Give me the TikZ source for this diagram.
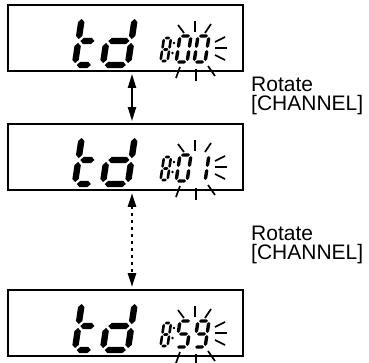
\documentclass[tikz,border=0pt]{standalone}
\usepackage{fontspec}
\setmainfont{Liberation Sans}
\usetikzlibrary{arrows.meta}

% horizontal LCD segment: x1, x2, y, thickness
\newcommand{\hsg}[4]{\fill ({#1},{#3}) -- ({#1+#4/2},{#3-#4/2}) -- ({#2-#4/2},{#3-#4/2}) -- ({#2},{#3}) -- ({#2-#4/2},{#3+#4/2}) -- ({#1+#4/2},{#3+#4/2}) -- cycle;}
% vertical LCD segment: x, y1, y2, thickness
\newcommand{\vsg}[4]{\fill ({#1},{#2}) -- ({#1+#4/2},{#2+#4/2}) -- ({#1+#4/2},{#3-#4/2}) -- ({#1},{#3}) -- ({#1-#4/2},{#3-#4/2}) -- ({#1-#4/2},{#2+#4/2}) -- cycle;}

\newcommand\lsega{\hsg{\dG}{\dW-\dG}{0}{\dT}}
\newcommand\lsegb{\vsg{\dW}{\dG}{\dH/2-\dG}{\dT}}
\newcommand\lsegc{\vsg{\dW}{\dH/2+\dG}{\dH-\dG}{\dT}}
\newcommand\lsegd{\hsg{\dG}{\dW-\dG}{\dH}{\dT}}
\newcommand\lsege{\vsg{0}{\dH/2+\dG}{\dH-\dG}{\dT}}
\newcommand\lsegf{\vsg{0}{\dG}{\dH/2-\dG}{\dT}}
\newcommand\lsegg{\hsg{\dG}{\dW-\dG}{\dH/2}{\dT}}

% LCD digit: x0, y0 (top-left), width, height, thickness, slant, segments
\newcommand{\lcd}[7]{%
  \begin{scope}[shift={(#1,#2)},xslant=#6]
    \pgfmathsetmacro\dW{#3}\pgfmathsetmacro\dH{#4}%
    \pgfmathsetmacro\dT{#5}\pgfmathsetmacro\dG{0.3*#5}%
    \foreach \s in {#7}{\csname lseg\s\endcsname}
  \end{scope}}

% one display content: vertical offset, segments of digit 2, segments of digit 3
\newcommand{\display}[3]{%
  \lcd{82}{17+#1}{18}{48}{6.4}{0.15}{f,g,e,d}
  \lcd{110}{17+#1}{25}{48}{6.4}{0.15}{b,c,d,e,g}
  \lcd{164}{38+#1}{7}{23}{2.6}{0.15}{a,b,c,d,e,f,g}
  \fill (174,{43+#1}) circle (1.3);
  \fill (172.5,{53+#1}) circle (1.3);
  \lcd{180}{36+#1}{11}{26}{3.4}{0.15}{#2}
  \lcd{198}{36+#1}{11}{26}{3.4}{0.15}{#3}
  \begin{scope}[ray]
    \draw (178,{25+#1}) -- (184,{33+#1});
    \draw (195,{21+#1}) -- (195,{32+#1});
    \draw (211,{24+#1}) -- (205,{33+#1});
    \draw (215,{42+#1}) -- (225,{37+#1});
    \draw (215,{48+#1}) -- (227,{48+#1});
    \draw (215,{55+#1}) -- (225,{60+#1});
    \draw (180,{67+#1}) -- (176,{78+#1});
    \draw (196,{69+#1}) -- (196,{81+#1});
    \draw (208,{66+#1}) -- (215,{76+#1});
  \end{scope}}

\begin{document}
\begin{tikzpicture}[x=1pt,y=-1pt,
  screen/.style={draw, line width=1.8pt, minimum width=235pt, minimum height=66pt, inner sep=0pt},
  ray/.style={line width=1.7pt},
  lab/.style={font=\fontsize{21}{21}\selectfont, inner sep=0pt, anchor=base west},
  conn/.style={line width=2pt, shorten <=2pt, shorten >=2pt, {Triangle[width=8pt,length=14pt]}-{Triangle[width=8pt,length=14pt]}},
  dotconn/.style={conn, line width=2.6pt, dash pattern=on 2.6pt off 4.4pt}]
\useasboundingbox (0,0) rectangle (369,362);
\fill[white] (0,0) rectangle (369,362);

\node[screen] (b1) at (125.5,38) {};
\node[screen] (b2) at (125.5,157) {};
\node[screen] (b3) at (125.5,323) {};

\display{0}{a,b,c,d,e,f}{a,b,c,d,e,f}
\display{119}{a,b,c,d,e,f}{b,c}
\display{285}{a,f,g,c,d}{a,b,c,d,f,g}

\draw[conn] ([xshift=6.5pt]b1.south) -- ([xshift=6.5pt]b2.north);
\draw[dotconn] ([xshift=6.5pt]b2.south) -- ([xshift=6.5pt]b3.north);

\node[lab] (r1) at (251,91) {Rotate};
\node[lab] (c1) at (251,110) {[CHANNEL]};
\node[lab] (r2) at (251,240) {Rotate};
\node[lab] (c2) at (251,259) {[CHANNEL]};
\end{tikzpicture}
\end{document}
